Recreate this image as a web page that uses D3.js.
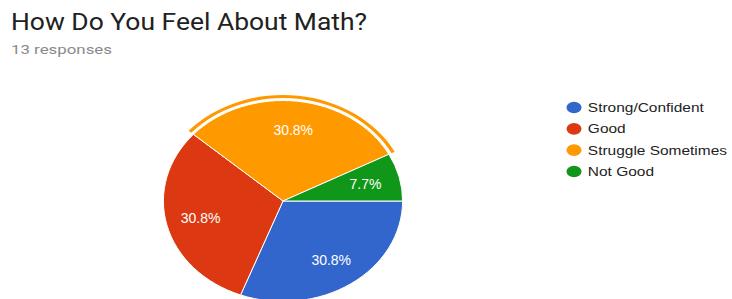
<!DOCTYPE html>
<html>
<head>
<meta charset="utf-8">
<script src="https://d3js.org/d3.v7.min.js"></script>
<style>
  body { margin: 0; background: #fff; }
  svg { display: block; }
  .label { fill: #fff; font-family: "Liberation Sans", Arial, sans-serif; font-size: 14px; }
  .legend text { fill: #222; font-family: "Liberation Sans", Arial, sans-serif; font-size: 13px; }
</style>
</head>
<body>
<div id="chart"></div>
<script>
// data
const categories = ["Strong/Confident", "Good", "Struggle Sometimes", "Not Good"];
const counts = [4, 4, 4, 1];
const colors = ["#3366cc", "#dc3912", "#ff9900", "#109618"];
const title = "How Do You Feel About Math?";
const subtitle = "13 responses";
const highlighted = "Struggle Sometimes";

const width = 732, height = 299;
const cx = 283, cy = 201, r = 100.5, sx = 1.19; // the picture is stretched horizontally

const svg = d3.select("#chart").append("svg")
    .attr("width", width)
    .attr("height", height);

svg.append("text")
    .attr("x", 11).attr("y", 30)
    .attr("textLength", 356).attr("lengthAdjust", "spacingAndGlyphs")
    .style("font-family", "Roboto, Arial, sans-serif")
    .style("font-size", "23px")
    .style("fill", "#212121")
    .text(title);

svg.append("text")
    .attr("x", 11).attr("y", 54)
    .attr("textLength", 101).attr("lengthAdjust", "spacingAndGlyphs")
    .style("font-family", "Roboto, Arial, sans-serif")
    .style("font-size", "13.5px")
    .style("fill", "#8a8a8a")
    .text(subtitle);

const total = d3.sum(counts);
const data = categories.map((c, i) => ({ name: c, value: counts[i], color: colors[i] }));

const pie = d3.pie()
    .value(d => d.value)
    .sort(null)
    .startAngle(Math.PI / 2)
    .endAngle(Math.PI / 2 + 2 * Math.PI);

const arcs = pie(data);
const arc = d3.arc().innerRadius(0).outerRadius(r);
const ring = d3.arc().innerRadius(r + 2.5).outerRadius(r + 5.5);
const labelArc = d3.arc().innerRadius(r * 0.71).outerRadius(r * 0.71);

const g = svg.append("g")
    .attr("transform", `translate(${cx},${cy}) scale(${sx},1)`);

g.selectAll("path.slice")
    .data(arcs)
    .join("path")
    .attr("class", "slice")
    .attr("d", arc)
    .attr("fill", d => d.data.color)
    .attr("stroke", "#fff")
    .attr("stroke-width", 1)
    .attr("vector-effect", "non-scaling-stroke");

g.selectAll("path.ring")
    .data(arcs.filter(d => d.data.name === highlighted))
    .join("path")
    .attr("class", "ring")
    .attr("d", ring)
    .attr("fill", d => d.data.color);

const fmt = v => (Math.round(v / total * 1000) / 10) + "%";

svg.selectAll("text.label")
    .data(arcs)
    .join("text")
    .attr("class", "label")
    .attr("x", d => cx + sx * labelArc.centroid(d)[0])
    .attr("y", d => cy + labelArc.centroid(d)[1])
    .attr("text-anchor", "middle")
    .attr("dominant-baseline", "central")
    .text(d => fmt(d.data.value));

const legend = svg.append("g").attr("class", "legend");
const ly = d3.scalePoint().domain(categories).range([107.5, 171.5]);

const item = legend.selectAll("g")
    .data(data)
    .join("g")
    .attr("transform", d => `translate(574,${ly(d.name)})`);

item.append("ellipse")
    .attr("rx", 7.5).attr("ry", 5.8)
    .attr("fill", d => d.color);

item.append("text")
    .attr("x", 14 / 1.2)
    .attr("y", 4.5)
    .attr("transform", "scale(1.19,1)")
    .text(d => d.name);
</script>
</body>
</html>
